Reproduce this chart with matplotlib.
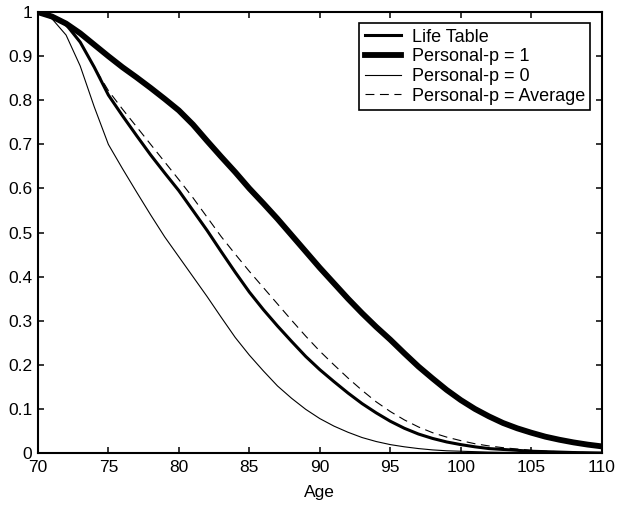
import matplotlib
matplotlib.use('Agg')
import matplotlib.pyplot as plt
import numpy as np

plt.rcParams['font.family'] = ['Liberation Sans', 'DejaVu Sans']

# survival curves by age, read at whole years
ages = list(range(70, 111))

life_table = [1.0, 0.99, 0.972, 0.932, 0.875, 0.812, 0.765, 0.72, 0.676, 0.635,
              0.595, 0.55, 0.505, 0.457, 0.41, 0.365, 0.325, 0.288, 0.253, 0.219,
              0.189, 0.162, 0.136, 0.112, 0.091, 0.072, 0.056, 0.043, 0.033, 0.025,
              0.019, 0.014, 0.010, 0.008, 0.006, 0.004, 0.003, 0.002, 0.001, 0.0005,
              0.0]

p_one = [1.0, 0.99, 0.974, 0.952, 0.926, 0.90, 0.875, 0.852, 0.828, 0.803,
         0.777, 0.745, 0.708, 0.672, 0.637, 0.60, 0.566, 0.531, 0.494, 0.457,
         0.42, 0.385, 0.35, 0.317, 0.286, 0.257, 0.226, 0.196, 0.169, 0.143,
         0.12, 0.10, 0.083, 0.068, 0.056, 0.046, 0.037, 0.030, 0.024, 0.019,
         0.015]

p_zero = [1.0, 0.985, 0.948, 0.878, 0.785, 0.70, 0.645, 0.592, 0.54, 0.49,
          0.445, 0.40, 0.355, 0.308, 0.262, 0.222, 0.186, 0.152, 0.124, 0.099,
          0.078, 0.061, 0.047, 0.035, 0.026, 0.019, 0.014, 0.010, 0.007, 0.005,
          0.004, 0.003, 0.002, 0.0015, 0.001, 0.001, 0.0005, 0.0, 0.0, 0.0,
          0.0]

p_average = [1.0, 0.99, 0.972, 0.932, 0.875, 0.822, 0.78, 0.74, 0.70, 0.66,
             0.62, 0.579, 0.535, 0.491, 0.451, 0.412, 0.375, 0.338, 0.301, 0.265,
             0.231, 0.2, 0.17, 0.142, 0.116, 0.094, 0.075, 0.059, 0.046, 0.036,
             0.028, 0.021, 0.016, 0.012, 0.009, 0.006, 0.004, 0.003, 0.002, 0.001,
             0.0]

fig = plt.figure(figsize=(6.21, 5.05), dpi=100)
ax = fig.add_axes([0.061, 0.103, 0.908, 0.873])

ax.plot(ages, life_table, color='black', lw=2.2, label='Life Table')
ax.plot(ages, p_one, color='black', lw=4.2, label='Personal-p = 1')
ax.plot(ages, p_zero, color='black', lw=0.8, label='Personal-p = 0')
ax.plot(ages, p_average, color='black', lw=0.8, dashes=(8, 5),
        label='Personal-p = Average')

ax.set_xlim(70, 110)
ax.set_ylim(0, 1)
ax.set_xticks(np.arange(70, 111, 5))
ax.set_yticks(np.arange(0, 1.01, 0.1))
ax.set_yticklabels(['0', '0.1', '0.2', '0.3', '0.4', '0.5', '0.6', '0.7', '0.8', '0.9', '1'])
ax.tick_params(direction='in', top=True, right=True, length=4.5, width=1.1,
               labelsize=12.5, colors='black')
ax.tick_params(axis='x', pad=5)
ax.tick_params(axis='y', pad=4)
for s in ax.spines.values():
    s.set_linewidth(1.5)
ax.set_xlabel('Age', fontsize=12.5, labelpad=7)

leg = ax.legend(loc='upper right', bbox_to_anchor=(0.98, 0.975), fontsize=13,
                frameon=True, fancybox=False, edgecolor='black', framealpha=1,
                handlelength=2.0, handletextpad=0.6, borderpad=0.3,
                labelspacing=0.15, borderaxespad=0)
leg.get_frame().set_linewidth(1.2)

fig.savefig('out.png', dpi=100)
